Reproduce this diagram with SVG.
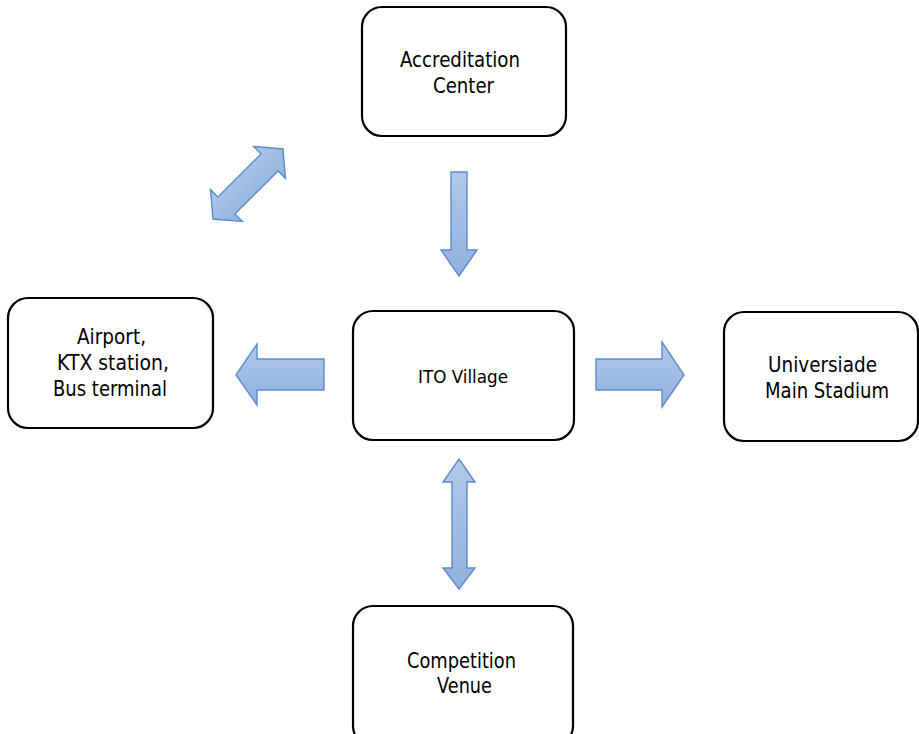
<svg xmlns="http://www.w3.org/2000/svg" width="919" height="734" viewBox="0 0 919 734">
<style>
.box{fill:#ffffff;stroke:#000000;stroke-width:2.2}
.lbl{font-family:"DejaVu Sans","Liberation Sans",sans-serif;font-size:20.5px;fill:#000000;text-anchor:middle}
.small{font-size:18.5px}
.arr{fill:url(#g);stroke:#5d8ac8;stroke-width:1.4;stroke-linejoin:miter}
</style>
<defs>
<linearGradient id="g" x1="0" y1="0" x2="0" y2="1">
<stop offset="0" stop-color="#b0c9ea"/>
<stop offset="1" stop-color="#90b1de"/>
</linearGradient>
</defs>
<rect width="919" height="734" fill="#ffffff"/>
<g id="connectors">
<polygon class="arr" points="451,172 467,172 467,250 477,250 459,276 441,250 451,250"/>
<polygon class="arr" points="236,375 257,344 257,359 324,359 324,390 257,390 257,405"/>
<polygon class="arr" points="596,359 662,359 662,342 684,375 662,407 662,390 596,390"/>
<polygon class="arr" points="459,459 475,482 467,482 467,568 475,568 459,589 443,568 452,568 452,482 443,482"/>
<polygon class="arr" transform="translate(248,184) rotate(-45)" points="-49.5,0 -30.5,-22.5 -30.5,-12 30.5,-12 30.5,-22.5 49.5,0 30.5,22.5 30.5,12 -30.5,12 -30.5,22.5"/>
</g>
<g id="accreditation">
<rect class="box" x="362" y="7" width="204" height="129" rx="20"/>
<text class="lbl" x="460" y="67" textLength="120" lengthAdjust="spacingAndGlyphs">Accreditation</text>
<text class="lbl" x="463.5" y="93" textLength="61" lengthAdjust="spacingAndGlyphs">Center</text>
</g>
<g id="airport">
<rect class="box" x="8" y="298" width="205" height="130" rx="20"/>
<text class="lbl" x="111.5" y="344" textLength="69" lengthAdjust="spacingAndGlyphs">Airport,</text>
<text class="lbl" x="113" y="370" textLength="112" lengthAdjust="spacingAndGlyphs">KTX station,</text>
<text class="lbl" x="110" y="396" textLength="114" lengthAdjust="spacingAndGlyphs">Bus terminal</text>
</g>
<g id="ito">
<rect class="box" x="353" y="311" width="221" height="129" rx="20"/>
<text class="lbl small" x="463" y="383" textLength="90" lengthAdjust="spacingAndGlyphs">ITO Village</text>
</g>
<g id="universiade">
<rect class="box" x="724" y="312" width="194" height="129" rx="20"/>
<text class="lbl" x="822.5" y="372" textLength="109" lengthAdjust="spacingAndGlyphs">Universiade</text>
<text class="lbl" x="827" y="398" textLength="124" lengthAdjust="spacingAndGlyphs">Main Stadium</text>
</g>
<g id="competition">
<rect class="box" x="353" y="606" width="220" height="140" rx="20"/>
<text class="lbl" x="461.5" y="668" textLength="109" lengthAdjust="spacingAndGlyphs">Competition</text>
<text class="lbl" x="464.5" y="693" textLength="55" lengthAdjust="spacingAndGlyphs">Venue</text>
</g>
</svg>
